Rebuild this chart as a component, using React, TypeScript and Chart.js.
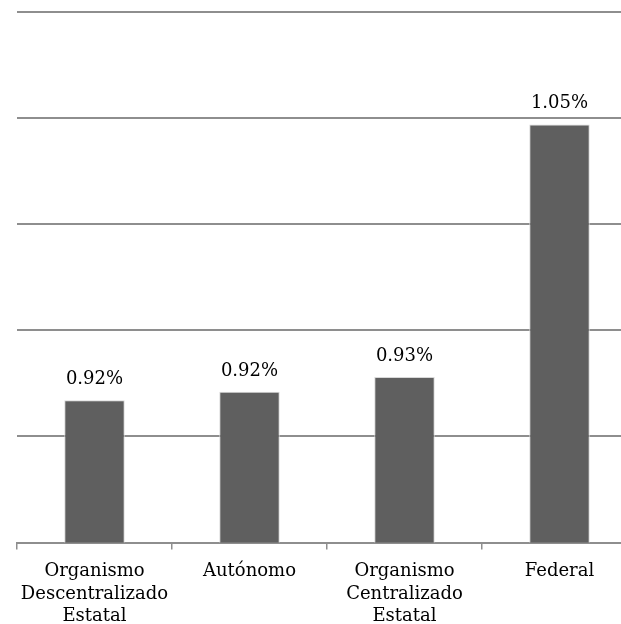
import React, { useEffect, useRef } from "react";
import { Chart, registerables } from "chart.js";

Chart.register(...registerables);

const categories: string[][] = [
  ["Organismo", "Descentralizado", "Estatal"],
  ["Autónomo"],
  ["Organismo", "Centralizado", "Estatal"],
  ["Federal"],
];
const values: number[] = [0.917, 0.921, 0.928, 1.047];
const yMin = 0.85;
const yMax = 1.1;
const yStep = 0.05;

const FONT = "'DejaVu Serif', 'Liberation Serif', serif";

const labelPlugin = {
  id: "barLabels",
  afterDatasetsDraw(chart: any) {
    const ctx = chart.ctx;
    const meta = chart.getDatasetMeta(0);
    ctx.save();
    ctx.font = `18px ${FONT}`;
    ctx.fillStyle = "#000";
    ctx.textAlign = "center";
    ctx.textBaseline = "bottom";
    meta.data.forEach((bar: any, i: number) => {
      ctx.fillText(values[i].toFixed(2) + "%", bar.x, bar.y - 12);
    });
    ctx.restore();
  },
};

export default function App() {
  const ref = useRef<HTMLCanvasElement>(null);
  useEffect(() => {
    if (!ref.current) return;
    const chart = new Chart(ref.current, {
      type: "bar",
      data: {
        labels: categories,
        datasets: [
          {
            data: values,
            backgroundColor: "#5f5f5f",
            borderColor: "#d8d8d8",
            borderWidth: 1,
            categoryPercentage: 1,
            barPercentage: 0.39,
          },
        ],
      },
      options: {
        responsive: false,
        animation: false,
        layout: { padding: { left: 17, right: 3, top: 12, bottom: 0 } },
        plugins: { legend: { display: false }, tooltip: { enabled: false } },
        scales: {
          x: {
            grid: {
              drawOnChartArea: false,
              drawTicks: true,
              tickLength: 7,
              offset: true,
              color: "#8e8e8e",
              lineWidth: 1.5,
            },
            border: { color: "#8e8e8e", width: 2 },
            ticks: {
              color: "#000",
              font: { family: FONT, size: 18, lineHeight: 1.25 },
              padding: 11,
              maxRotation: 0,
              autoSkip: false,
            },
          },
          y: {
            min: yMin,
            max: yMax,
            ticks: { display: false, stepSize: yStep },
            grid: { color: "#8e8e8e", lineWidth: 2, drawTicks: false },
            border: { display: false },
          },
        },
      },
      plugins: [labelPlugin],
    });
    return () => chart.destroy();
  }, []);
  return (
    <div
      style={{
        position: "absolute",
        left: 0,
        top: 0,
        width: 621,
        height: 624,
        overflow: "hidden",
        background: "#fff",
      }}
    >
      <canvas ref={ref} width={640} height={639} style={{ display: "block" }} />
    </div>
  );
}
